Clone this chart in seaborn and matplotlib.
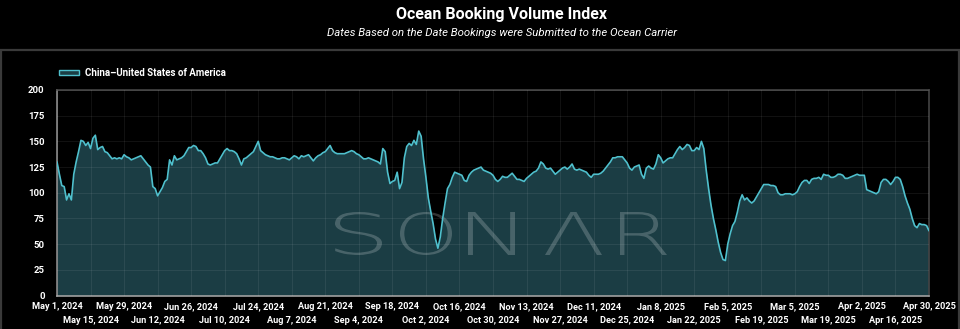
import matplotlib
matplotlib.use("Agg")
import matplotlib.pyplot as plt
import pandas as pd
import seaborn as sns
from matplotlib.patches import Patch, PathPatch, Rectangle
from matplotlib.textpath import TextPath
from matplotlib.font_manager import FontProperties
from matplotlib.transforms import Affine2D, IdentityTransform

# ---- data -------------------------------------------------------------
start_date = "2024-05-01"
end_date = "2025-04-30"
series_name = "China\u2013United States of America"
title = "Ocean Booking Volume Index"
subtitle = "Dates Based on the Date Bookings were Submitted to the Ocean Carrier"

# daily index values, one row per two weeks
booking_index = [
    130, 118, 107, 106, 93, 99, 93, 118, 130, 140, 151, 150, 146, 149,
    143, 153, 156, 142, 144, 145, 140, 139, 136, 133, 134, 133, 134, 133,
    137, 135, 134, 132, 133, 134, 135, 136, 133, 130, 127, 125, 106, 104,
    97, 101, 105, 111, 113, 132, 127, 136, 132, 133, 134, 136, 140, 144,
    144, 146, 145, 141, 141, 138, 134, 128, 127, 128, 129, 129, 133, 137,
    141, 143, 141, 141, 140, 138, 133, 127, 133, 134, 136, 138, 140, 145,
    150, 141, 139, 137, 136, 135, 135, 134, 133, 133, 134, 134, 133, 132,
    134, 136, 135, 133, 136, 135, 136, 137, 134, 131, 134, 136, 137, 139,
    140, 143, 146, 141, 139, 138, 138, 138, 138, 139, 140, 141, 140, 138,
    137, 135, 133, 133, 134, 133, 132, 131, 130, 128, 143, 140, 120, 109,
    111, 112, 120, 104, 110, 134, 145, 148, 146, 151, 147, 160, 155, 133,
    115, 95, 82, 70, 55, 46, 57, 75, 90, 104, 108, 115, 120, 119,
    118, 117, 112, 111, 117, 120, 122, 123, 124, 125, 122, 121, 120, 119,
    117, 113, 111, 113, 116, 115, 115, 117, 119, 116, 113, 113, 112, 111,
    114, 116, 118, 120, 121, 124, 130, 128, 124, 123, 124, 121, 118, 120,
    122, 124, 125, 123, 125, 128, 123, 122, 123, 122, 121, 120, 117, 115,
    118, 118, 118, 119, 121, 124, 127, 130, 134, 134, 135, 135, 135, 132,
    129, 124, 122, 125, 126, 127, 118, 114, 124, 126, 124, 123, 128, 137,
    134, 129, 131, 133, 134, 134, 138, 142, 145, 142, 144, 147, 146, 141,
    141, 144, 142, 150, 143, 122, 104, 88, 75, 64, 52, 42, 35, 34,
    50, 60, 68, 72, 81, 92, 98, 93, 95, 92, 90, 92, 96, 100,
    104, 108, 108, 108, 107, 107, 106, 100, 98, 98, 99, 99, 99, 98,
    99, 101, 106, 110, 112, 112, 109, 113, 114, 114, 115, 113, 118, 117,
    117, 115, 115, 116, 118, 118, 117, 114, 114, 115, 116, 117, 118, 117,
    117, 117, 103, 102, 101, 100, 99, 101, 110, 113, 113, 111, 108, 111,
    115, 115, 113, 106, 97, 90, 84, 75, 68, 66, 70, 69, 69, 68,
    63,
]
y_ticks = [0, 25, 50, 75, 100, 125, 150, 175, 200]
tick_step_days = 14

dates = pd.date_range(start_date, end_date, freq="D")
df = pd.DataFrame({"date": dates, "index": booking_index})

# ---- style ------------------------------------------------------------
sns.set_theme(style="dark")
COND = ["Liberation Sans Narrow", "Roboto", "DejaVu Sans"]
plt.rcParams["font.family"] = COND
plt.rcParams["axes.facecolor"] = "black"
plt.rcParams["figure.facecolor"] = "black"

LINE = "#4fc0cd"
FILL = "#1b3d44"
TXT = "#ffffff"

W, H = 960, 329
fig = plt.figure(figsize=(W / 100, H / 100), dpi=100, facecolor="black")

# outer panel frame
fig.add_artist(Rectangle((1 / W, -0.05), 1 - 2 / W, 1.05 - 50 / H,
                         transform=fig.transFigure, facecolor="none",
                         edgecolor="#3a3a3a", lw=1.6))

ax = fig.add_axes([57 / W, (H - 295.5) / H, 872 / W, 205.5 / H])
ax.set_facecolor("black")

ax.fill_between(df["date"], df["index"], 0, color=FILL, lw=0, zorder=1)
sns.lineplot(data=df, x="date", y="index", ax=ax, color=LINE, lw=1.2,
             zorder=4, legend=False)

ax.set_xlim(dates[0], dates[-1])
ax.set_ylim(y_ticks[0], y_ticks[-1])
ax.set_xlabel("")
ax.set_ylabel("")

# date ticks every two weeks, alternating between two label rows
ticks = pd.date_range(start_date, end_date, freq=f"{tick_step_days}D")
fmt = [f"{d:%b} {d.day}, {d.year}" for d in ticks]
ax.set_xticks(ticks[::2])
ax.set_xticklabels(fmt[::2])
ax.set_xticks(ticks[1::2], minor=True)
ax.set_xticklabels(fmt[1::2], minor=True)
for lab in ax.get_xticklabels(which="both"):
    lab.set_color(TXT)
    lab.set_fontsize(6.6)
    lab.set_fontweight("bold")
ax.tick_params(axis="x", which="major", length=0, pad=5)
ax.tick_params(axis="x", which="minor", length=0, pad=14.5)

ax.set_yticks(y_ticks)
ax.set_yticklabels([str(v) for v in y_ticks], color=TXT, fontsize=6.8,
                   fontweight="bold")
ax.tick_params(axis="y", length=0, pad=9)

ax.grid(True, which="both", color="white", alpha=0.07, lw=0.8)
ax.set_axisbelow(False)
for s in ("top", "right"):
    ax.spines[s].set_color("#444444")
    ax.spines[s].set_linewidth(1.2)
ax.spines["left"].set_color("#8a8a8a")
ax.spines["bottom"].set_color("#a0a0a0")
for s in ("left", "bottom"):
    ax.spines[s].set_linewidth(1.2)

# watermark logo letters
fp = FontProperties(family="DejaVu Sans", weight="light")
letter_boxes = [("S", 335, 382), ("O", 400, 452), ("N", 468, 515),
                ("\u039b", 545, 602), ("R", 620, 667)]
for ch, x0, x1 in letter_boxes:
    tp = TextPath((0, 0), ch, size=100, prop=fp)
    bb = tp.get_extents()
    tr = (Affine2D().translate(-bb.x0, -bb.y0)
          .scale((x1 - x0) / bb.width, 43 / bb.height)
          .translate(x0, H - 255))
    ax.add_artist(PathPatch(tr.transform_path(tp), transform=IdentityTransform(),
                            facecolor="white", edgecolor="none", alpha=0.2,
                            zorder=2))

# legend
handle = Patch(facecolor=FILL, edgecolor=LINE, lw=1.0)
fig.legend([handle], [series_name], loc="center left",
           bbox_to_anchor=(54 / W, 1 - 73 / H), frameon=False,
           handlelength=2.1, handleheight=0.55, handletextpad=0.6,
           borderpad=0, prop={"family": COND, "size": 7.0, "weight": "bold"},
           labelcolor=TXT)

fig.text(502 / W, 1 - 15 / H, title, ha="center", va="center", color=TXT,
         fontsize=11.5, fontweight="bold", family=COND)
fig.text(502 / W, 1 - 33 / H, subtitle, ha="center", va="center", color=TXT,
         fontsize=8.2, fontstyle="italic", family=COND)

fig.savefig("out.png", dpi=100, facecolor="black")
